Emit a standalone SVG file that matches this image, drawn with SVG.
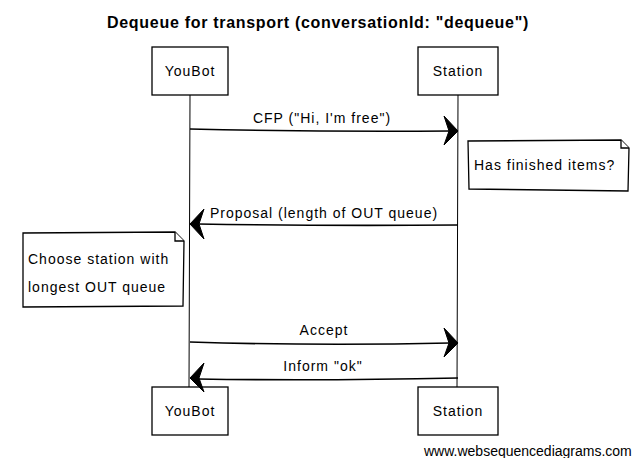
<svg xmlns="http://www.w3.org/2000/svg" width="634" height="458" viewBox="0 0 634 458">
<style>
.bg{fill:#fff}
.box{fill:#fff;stroke:#000;stroke-width:1.3}
.life{stroke:#000;stroke-width:1;fill:none}
.msg{stroke:#000;stroke-width:1.6;fill:none}
.head{fill:#000;stroke:#000;stroke-width:1}
.t{font-family:"Liberation Sans",Arial,sans-serif;font-size:14px;letter-spacing:1px;fill:#000}
.title{font-family:"Liberation Sans",Arial,sans-serif;font-size:16px;font-weight:bold;letter-spacing:0.7px;fill:#000}
.wm{font-family:"Liberation Sans",Arial,sans-serif;font-size:14px;fill:#000}
</style>
<rect class="bg" x="0" y="0" width="634" height="458"/>
<text class="title" x="318" y="28" text-anchor="middle">Dequeue for transport (conversationId: "dequeue")</text>
<g id="lifelines">
<path class="life" d="M190 95 L189 387"/>
<path class="life" d="M458 95 L457 387"/>
</g>
<g id="youbot-top">
<rect class="box" x="152" y="47" width="76" height="48"/>
<text class="t" x="190" y="76" text-anchor="middle">YouBot</text>
</g>
<g id="station-top">
<rect class="box" x="418" y="47" width="80" height="48"/>
<text class="t" x="458" y="76" text-anchor="middle">Station</text>
</g>
<g id="youbot-bottom">
<rect class="box" x="152" y="387" width="76" height="48"/>
<text class="t" x="190" y="416" text-anchor="middle">YouBot</text>
</g>
<g id="station-bottom">
<rect class="box" x="418" y="387" width="80" height="48"/>
<text class="t" x="458" y="416" text-anchor="middle">Station</text>
</g>
<g id="note-station">
<path class="box" d="M468 141 L621 140 L629 148 L628 191 L469 189 Z"/>
<path class="box" d="M621 140 L621 148 L629 148"/>
<text class="t" x="474" y="170">Has finished items?</text>
</g>
<g id="note-youbot">
<path class="box" d="M23 233 L175 232 L184 241 L183 306 L23 307 Z"/>
<path class="box" d="M175 232 L175 241 L184 241"/>
<text class="t" x="28" y="264">Choose station with</text>
<text class="t" x="28" y="292">longest OUT queue</text>
</g>
<g id="connectors">
<path class="msg" d="M190 129 Q320 132 450 131"/>
<path class="head" d="M458 131 L444 116 L449 131 L444 145 Z"/>
<text class="t" x="322" y="123" text-anchor="middle">CFP ("Hi, I'm free")</text>
<path class="msg" d="M458 225 Q320 226 198 224"/>
<path class="head" d="M190 224 L204 209 L199 224 L204 239 Z"/>
<text class="t" x="324" y="218" text-anchor="middle">Proposal (length of OUT queue)</text>
<path class="msg" d="M190 342 Q320 346 450 343"/>
<path class="head" d="M458 343 L444 328 L449 343 L444 357 Z"/>
<text class="t" x="324" y="335" text-anchor="middle">Accept</text>
<path class="msg" d="M458 378 Q320 381 198 379"/>
<path class="head" d="M190 378 L204 363 L199 378 L204 392 Z"/>
<text class="t" x="323" y="371" text-anchor="middle">Inform "ok"</text>
</g>
<text class="wm" x="424" y="456">www.websequencediagrams.com</text>
</svg>
